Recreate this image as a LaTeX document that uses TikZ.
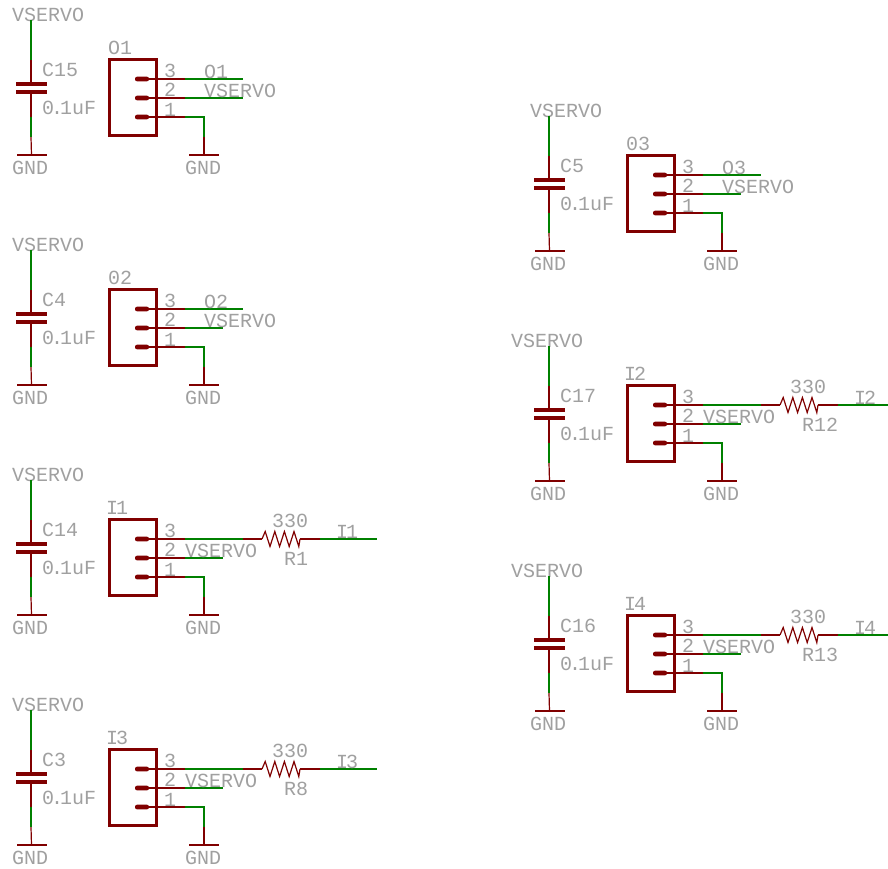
\documentclass[tikz,border=0pt]{standalone}
\usepackage{fontspec}
\usepackage{xcolor}
\usepackage{tikz}
\usetikzlibrary{positioning}
\newfontfamily\eaglefont[FakeStretch=1.0]{Liberation Mono}
\definecolor{netgreen}{RGB}{0,128,0}
\definecolor{symred}{RGB}{128,0,0}
\definecolor{labelgray}{RGB}{160,160,160}

% capacitor, connector body, pins and ground wire of one servo header
\newcommand{\servobase}[6]{%
  \begin{scope}[shift={(#2,#3)}]
    \node[label text] (#1supply) at (#6,21) {VSERVO};
    \node[label text] (#1capname) at (42,76) {#4};
    \node[label text] (#1capval) at (42,114) {0\kern-3pt.\kern-3pt1uF};
    \node[plate] (#1plateA) at (31,84) {};
    \node[plate] (#1plateB) at (31,92) {};
    \node[bar] (#1gndA) at (31.5,155) {};
    \node[label text] (#1gndtextA) at (12,174) {GND};
    \coordinate (#1capT) at (31,20);
    \coordinate (#1capU) at (31,60);
    \coordinate (#1capL) at (31,117);
    \coordinate (#1capM) at (31,137);
    \draw[net] (#1capT) -- (#1capU);
    \draw[pad] (#1capU) -- (#1plateA.center);
    \draw[pad] (#1plateB.center) -- (#1capL);
    \draw[net] (#1capL) -- (#1capM);
    \draw[pad] (#1capM) -- (#1gndA.center);
    \node[body] (#1body) at (132.5,97.8) {};
    \node[label text] (#1name) at (106,54) {#5};
    \foreach \pin/\ypos/\ytext in {3/79/77,2/98/96,1/117/116} {
      \node[stub] (#1pin\pin) at (142,\ypos) {};
      \node[label text] (#1num\pin) at (164,\ytext) {\pin};
      \coordinate (#1join\pin) at (185,\ypos);
      \draw[pad] (#1pin\pin.center) -- (#1join\pin);
    }
    \node[bar] (#1gndB) at (204,155) {};
    \node[label text] (#1gndtextB) at (185,174) {GND};
    \coordinate (#1bend) at (204,117);
    \coordinate (#1drop) at (204,137);
    \draw[net] (#1join1) -- (#1bend) -- (#1drop);
    \draw[pad] (#1drop) -- (#1gndB.center);
  \end{scope}
}

% direct output header, #5 is where the supply wire stops
\newcommand{\outwires}[5]{%
  \begin{scope}[shift={(#2,#3)}]
    \coordinate (#1endA) at (243,79);
    \coordinate (#1endB) at (#5,98);
    \draw[net] (#1join3) -- (#1endA);
    \draw[net] (#1join2) -- (#1endB);
    \node[label text] (#1sig) at (204,78) {#4};
    \node[label text] (#1pwr) at (204,97) {VSERVO};
  \end{scope}
}

% input header with series resistor
\newcommand{\inwires}[5]{%
  \begin{scope}[shift={(#2,#3)}]
    \coordinate (#1endB) at (223,98);
    \coordinate (#1netA) at (243,79);
    \coordinate (#1resL) at (262,79);
    \coordinate (#1resR) at (300,79);
    \coordinate (#1netB) at (320,79);
    \coordinate (#1endA) at (377,79);
    \draw[net] (#1join2) -- (#1endB);
    \draw[net] (#1join3) -- (#1netA);
    \draw[pad] (#1netA) -- (#1resL);
    \draw[pad] (#1resL) -- ++(3.2,-7.5) -- ++(4.8,15) -- ++(4.8,-15) -- ++(4.8,15)
      -- ++(4.8,-15) -- ++(4.8,15) -- ++(4.8,-15) -- ++(4.8,15) -- (#1resR);
    \draw[pad] (#1resR) -- (#1netB);
    \draw[net] (#1netB) -- (#1endA);
    \node[label text] (#1pwr) at (185,97) {VSERVO};
    \node[label text] (#1resval) at (272,67) {330};
    \node[label text] (#1resname) at (284,105) {#4};
    \node[label text] (#1sig) at (336,78) {#5};
  \end{scope}
}

\begin{document}
\begin{tikzpicture}[
    x=1pt, y=-1pt,
    label text/.style={anchor=base west, inner sep=0pt, text=labelgray, font=\eaglefont\fontsize{20}{20}\selectfont},
    net/.style={draw=netgreen, line width=1.4pt},
    pad/.style={draw=symred, line width=1.2pt},
    plate/.style={rectangle, fill=symred, inner sep=0pt, minimum width=31pt, minimum height=4.2pt},
    bar/.style={rectangle, fill=symred, inner sep=0pt, minimum width=30pt, minimum height=1.6pt},
    body/.style={rectangle, draw=symred, line width=3pt, inner sep=0pt, minimum width=47pt, minimum height=76pt},
    stub/.style={rectangle, fill=symred, rounded corners=2pt, inner sep=0pt, minimum width=14pt, minimum height=4.6pt}
]
    \path[use as bounding box, clip] (0,0) rectangle (888,868);

    \servobase{oa}{0}{0}{C15}{\kern2pt O1}{12}
    \outwires{oa}{0}{0}{O1}{243}
    \servobase{ob}{0}{230}{C4}{\kern2pt 02}{12}
    \outwires{ob}{0}{230}{O2}{223}
    \servobase{oc}{518}{96}{C5}{\kern2pt 03}{12}
    \outwires{oc}{518}{96}{O3}{223}

    \servobase{ia}{0}{460}{C14}{I\kern-2pt1}{12}
    \inwires{ia}{0}{460}{R1}{I\kern-2pt1}
    \servobase{ic}{0}{690}{C3}{I\kern-2pt3}{12}
    \inwires{ic}{0}{690}{R8}{I\kern-2pt3}
    \servobase{ib}{518}{326}{C17}{I\kern-2pt2}{-7}
    \inwires{ib}{518}{326}{R12}{I\kern-2pt2}
    \servobase{id}{518}{556}{C16}{I\kern-2pt4}{-7}
    \inwires{id}{518}{556}{R13}{I\kern-2pt4}
\end{tikzpicture}
\end{document}
